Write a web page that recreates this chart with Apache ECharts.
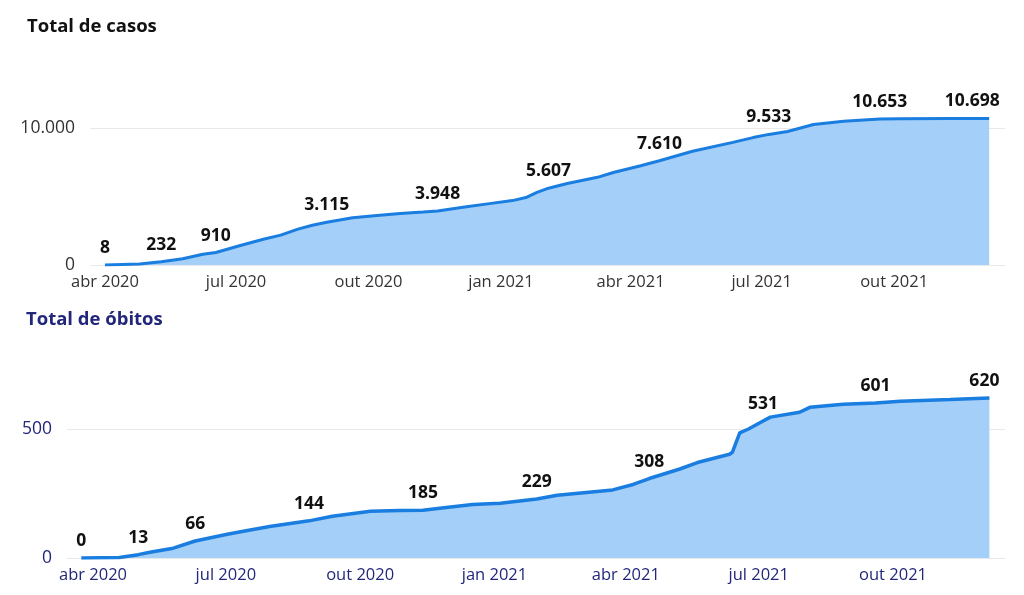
<!DOCTYPE html>
<html>
<head>
<meta charset="utf-8">
<script src="https://cdn.jsdelivr.net/npm/echarts@6/dist/echarts.min.js"></script>
<style>html,body{margin:0;padding:0;background:#fff;}#c{width:1024px;height:595px;}</style>
</head>
<body>
<div id="c"></div>
<script>
// ---- Data ----
const casesDates = ['2020-04-01','2020-04-25','2020-05-10','2020-05-25','2020-06-08','2020-06-17','2020-07-04','2020-07-20','2020-08-01','2020-08-13','2020-08-23','2020-09-02','2020-09-20','2020-10-07','2020-10-23','2020-11-08','2020-11-18','2020-12-08','2020-12-24','2021-01-09','2021-01-19','2021-01-26','2021-02-03','2021-02-16','2021-03-09','2021-03-20','2021-04-08','2021-04-21','2021-05-14','2021-06-11','2021-06-25','2021-07-06','2021-07-19','2021-08-06','2021-08-27','2021-09-21','2021-10-05','2021-11-09','2021-12-06'];
const casesValues = [8,70,232,460,780,910,1420,1880,2180,2620,2900,3115,3450,3620,3760,3870,3948,4250,4480,4700,4950,5300,5607,5950,6400,6750,7250,7610,8300,8950,9300,9533,9750,10250,10500,10653,10680,10690,10698];
const casesLabeled = ['2020-04-01','2020-05-10','2020-06-17','2020-09-02','2020-11-18','2021-02-03','2021-04-21','2021-07-06','2021-09-21','2021-12-06'];

const deathsDates = ['2020-03-24','2020-04-19','2020-05-02','2020-05-10','2020-05-26','2020-06-10','2020-07-02','2020-07-13','2020-07-31','2020-08-27','2020-09-12','2020-10-08','2020-10-28','2020-11-13','2020-11-26','2020-12-17','2021-01-05','2021-01-30','2021-02-13','2021-03-23','2021-04-06','2021-04-17','2021-05-08','2021-05-20','2021-06-11','2021-06-13','2021-06-18','2021-06-24','2021-07-04','2021-07-09','2021-07-29','2021-08-05','2021-08-28','2021-09-19','2021-10-06','2021-11-09','2021-12-06'];
const deathsValues = [0,2,13,22,38,66,92,104,122,144,162,181,184,185,194,207,212,229,243,264,285,308,345,370,402,410,485,500,531,546,565,584,596,601,608,614,620];
const deathsLabeled = ['2020-03-24','2020-05-02','2020-06-10','2020-08-27','2020-11-13','2021-01-30','2021-04-17','2021-07-04','2021-09-19','2021-12-06'];

const monthTicks = ['2020-04-01','2020-07-01','2020-10-01','2021-01-01','2021-04-01','2021-07-01','2021-10-01'];
const monthTickLabels = ['abr 2020','jul 2020','out 2020','jan 2021','abr 2021','jul 2021','out 2021'];

const casesYTicks = [0, 10000];
const deathsYTicks = [0, 500];

// ---- helpers ----
const DAY = 86400000;
const ts = s => Date.parse(s + 'T00:00:00Z');
const fmt = v => String(Math.round(v)).replace(/\B(?=(\d{3})+(?!\d))/g, '.');
const tickTs = monthTicks.map(ts);
const tickLabel = v => { const i = tickTs.indexOf(v); return i >= 0 ? monthTickLabels[i] : ''; };

function buildData(dates, values, labeled, lastOffset) {
  return dates.map((d, i) => {
    const item = { value: [ts(d), values[i]] };
    if (labeled.indexOf(d) >= 0) {
      item.label = { show: true };
      if (i === dates.length - 1) item.label.offset = [lastOffset, 0];
    }
    return item;
  });
}

const FONT = '"Open Sans", "Noto Sans", sans-serif';
const NAVY = '#22277a';
const LINE = '#1a7de0';
const AREA = '#a3cff8';

const chart = echarts.init(document.getElementById('c'), null, { renderer: 'canvas' });

function xAxisCfg(gridIndex, min, max, color) {
  return {
    type: 'value', gridIndex, min, max, scale: true,
    axisLine: { show: false }, axisTick: { show: false }, splitLine: { show: false },
    axisLabel: {
      customValues: tickTs, formatter: v => tickLabel(v), color, fontFamily: FONT,
      fontSize: 16.5, margin: 9, hideOverlap: false, showMinLabel: true, showMaxLabel: true
    }
  };
}
function yAxisCfg(gridIndex, max, interval, ticks, color) {
  return {
    type: 'value', gridIndex, min: 0, max, interval,
    axisLine: { show: false }, axisTick: { show: false },
    splitLine: { show: true, showMaxLine: false, lineStyle: { color: '#e9e9e9', width: 1 } },
    axisLabel: {
      showMaxLabel: false, color, fontFamily: FONT, fontSize: 17.5, margin: 15,
      formatter: v => ticks.indexOf(v) >= 0 ? fmt(v) : ''
    }
  };
}
function seriesCfg(idx, data, width) {
  return {
    type: 'line', xAxisIndex: idx, yAxisIndex: idx, data,
    symbol: 'circle', symbolSize: 0, showSymbol: true, showAllSymbol: true,
    lineStyle: { color: LINE, width },
    itemStyle: { color: LINE },
    areaStyle: { color: AREA, opacity: 1 },
    label: {
      show: false, position: 'top', distance: 8, color: '#111111',
      fontFamily: FONT, fontSize: 17.5, fontWeight: 'bold',
      formatter: p => fmt(p.value[1])
    },
    emphasis: { disabled: true },
    animation: false
  };
}

const apr1 = ts('2020-04-01');
chart.setOption({
  animation: false,
  backgroundColor: '#ffffff',
  title: [
    { text: 'Total de casos', left: 22, top: 12, textStyle: { fontFamily: FONT, fontSize: 18.5, fontWeight: 'bold', color: '#111111' } },
    { text: 'Total de óbitos', left: 21, top: 305, textStyle: { fontFamily: FONT, fontSize: 18.5, fontWeight: 'bold', color: NAVY } }
  ],
  grid: [
    { left: 90, right: 19, top: 59.5, height: 205.5 },
    { left: 67, right: 19, top: 364.5, height: 193.5 }
  ],
  xAxis: [
    xAxisCfg(0, apr1 - 10.4 * DAY, apr1 + 625 * DAY, '#333333'),
    xAxisCfg(1, apr1 - 17.8 * DAY, apr1 + 624.7 * DAY, NAVY)
  ],
  yAxis: [
    yAxisCfg(0, 15000, 10000, casesYTicks, '#333333'),
    yAxisCfg(1, 750, 500, deathsYTicks, NAVY)
  ],
  series: [
    seriesCfg(0, buildData(casesDates, casesValues, casesLabeled, -17), 3),
    seriesCfg(1, buildData(deathsDates, deathsValues, deathsLabeled, -5), 3.5)
  ]
});
</script>
</body>
</html>
